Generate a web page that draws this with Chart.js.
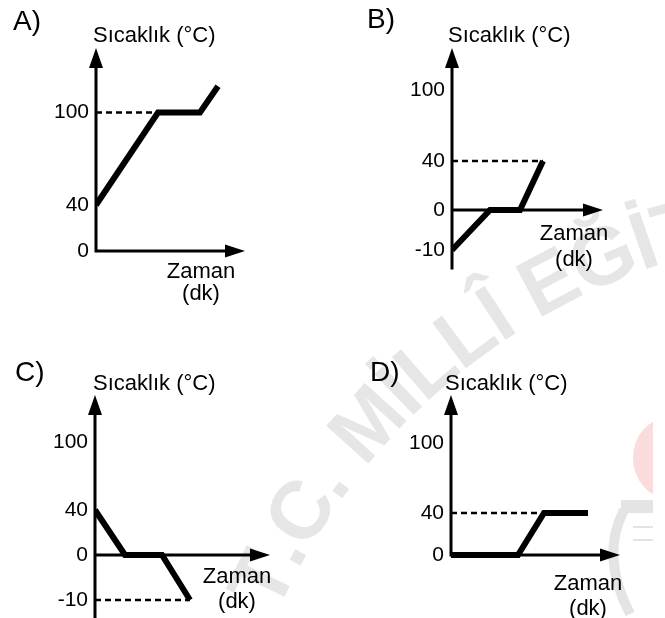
<!DOCTYPE html>
<html>
<head>
<meta charset="utf-8">
<script src="https://cdn.jsdelivr.net/npm/chart.js@4.4.0/dist/chart.umd.min.js"></script>
<style>
  html, body { margin: 0; padding: 0; background: #fff; }
  #wrap { position: relative; width: 665px; height: 618px; overflow: hidden; }
  #wrap canvas { position: absolute; left: 0; top: 0; }
</style>
</head>
<body>
<div id="wrap">
  <canvas id="chart-a" width="665" height="618"></canvas>
  <canvas id="chart-b" width="665" height="618"></canvas>
  <canvas id="chart-c" width="665" height="618"></canvas>
  <canvas id="chart-d" width="665" height="618"></canvas>
</div>
<script>
// ============ veriler ============
const Y_TITLE = 'Sıcaklık (°C)';
const X_TITLE = ['Zaman', '(dk)'];
const PANEL_LETTERS = ['A)', 'B)', 'C)', 'D)'];

// A) 40 -> 100 -> sabit -> yukarı
const TICKS_A = [0, 40, 100];
const TIME_A = [0, 6.2, 10.4, 12.2];
const TEMP_A = [40, 100, 100, 117];
const REF_TIME_A = [0, 6.2];
const REF_TEMP_A = [100, 100];

// B) -10 -> 0 -> sabit -> 40
const TICKS_B = [-10, 0, 40, 100];
const TIME_B = [0, 3.8, 6.8, 9.1];
const TEMP_B = [-10, 0, 0, 40];
const REF_TIME_B = [0, 9.1];
const REF_TEMP_B = [40, 40];

// C) 40 -> 0 -> sabit -> -10
const TICKS_C = [-10, 0, 40, 100];
const TIME_C = [0, 3.0, 6.7, 9.5];
const TEMP_C = [40, 0, 0, -10];
const REF_TIME_C = [0, 9.5];
const REF_TEMP_C = [-10, -10];

// D) 0 sabit -> 40 -> sabit
const TICKS_D = [0, 40, 100];
const TIME_D = [0, 6.7, 9.3, 13.7];
const TEMP_D = [0, 0, 40, 40];
const REF_TIME_D = [0, 9.3];
const REF_TEMP_D = [40, 40];

// ============ yerleşim (piksel) ============
// tickPos: tick değerlerinin eksen boyundaki yeri (0 = alt, 1 = ok ucu)
const LAYOUT = {
  A: { axisX: 96,  tipX: 245, topY: 48,  bottomY: 251, xMax: 14.9, tickPos: [0, 0.2266, 0.6823],
       letter: [13, 30],   title: [93, 42],   zaman: [201, 278], dk: 300 },
  B: { axisX: 452, tipX: 603, topY: 48,  bottomY: 268, xMax: 15.1, tickPos: [0.0818, 0.2636, 0.4864, 0.8091],
       letter: [367, 28],  title: [448, 42],  zaman: [574, 240], dk: 266 },
  C: { axisX: 95,  tipX: 270, topY: 395, bottomY: 618, xMax: 17.5, tickPos: [0.0807, 0.2825, 0.4843, 0.7892],
       letter: [15, 381],  title: [93, 390],  zaman: [237, 583], dk: 608 },
  D: { axisX: 451, tipX: 620, topY: 395, bottomY: 555, xMax: 16.9, tickPos: [0, 0.2625, 0.7],
       letter: [370, 381], title: [445, 390], zaman: [588, 590], dk: 615 }
};

const STOPS = {
  A: { values: TICKS_A, pos: LAYOUT.A.tickPos },
  B: { values: TICKS_B, pos: LAYOUT.B.tickPos },
  C: { values: TICKS_C, pos: LAYOUT.C.tickPos },
  D: { values: TICKS_D, pos: LAYOUT.D.tickPos }
};

Chart.defaults.font.family = '"Liberation Sans", Arial, sans-serif';
Chart.defaults.color = '#000';

// Şematik (parçalı doğrusal) sıcaklık ekseni
class PiecewiseScale extends Chart.LinearScale {
  buildTicks() {
    return STOPS[this.options.panel].values.map(v => ({ value: v }));
  }
  toDec(v) {
    const { values: vs, pos: ps } = STOPS[this.options.panel];
    let i = 0;
    while (i < vs.length - 2 && v > vs[i + 1]) i++;
    return ps[i] + (v - vs[i]) * (ps[i + 1] - ps[i]) / (vs[i + 1] - vs[i]);
  }
  fromDec(d) {
    const { values: vs, pos: ps } = STOPS[this.options.panel];
    let i = 0;
    while (i < ps.length - 2 && d > ps[i + 1]) i++;
    return vs[i] + (d - ps[i]) * (vs[i + 1] - vs[i]) / (ps[i + 1] - ps[i]);
  }
  getPixelForValue(v) {
    if (v === null || v === undefined || isNaN(v)) return NaN;
    return this.getPixelForDecimal(this.toDec(v));
  }
  getValueForPixel(p) {
    return this.fromDec(this.getDecimalForPixel(p));
  }
}
PiecewiseScale.id = 'piecewise';
Chart.register(PiecewiseScale);

// eksen çizgileri ve oklar
const axisArrows = {
  id: 'axisArrows',
  beforeDatasetsDraw(chart) {
    const { ctx, chartArea: a, scales: { y } } = chart;
    const y0 = y.getPixelForValue(0);
    ctx.save();
    ctx.strokeStyle = '#000';
    ctx.fillStyle = '#000';
    ctx.lineWidth = 3;
    ctx.beginPath();
    ctx.moveTo(a.left, a.bottom + 1.5);
    ctx.lineTo(a.left, a.top + 12);
    ctx.moveTo(a.left - 1.5, y0);
    ctx.lineTo(a.right - 12, y0);
    ctx.stroke();
    ctx.beginPath();
    ctx.moveTo(a.left, a.top);
    ctx.lineTo(a.left - 7, a.top + 20);
    ctx.lineTo(a.left + 7, a.top + 20);
    ctx.closePath();
    ctx.fill();
    ctx.beginPath();
    ctx.moveTo(a.right, y0);
    ctx.lineTo(a.right - 20, y0 - 6.5);
    ctx.lineTo(a.right - 20, y0 + 6.5);
    ctx.closePath();
    ctx.fill();
    ctx.restore();
  }
};

// şık harfi, eksen adları
const panelText = {
  id: 'panelText',
  afterDraw(chart, args, o) {
    const ctx = chart.ctx;
    ctx.save();
    ctx.fillStyle = '#000';
    ctx.textBaseline = 'alphabetic';
    ctx.textAlign = 'left';
    ctx.font = '28px "Liberation Sans", Arial, sans-serif';
    ctx.fillText(o.letter, o.letterX, o.letterY);
    ctx.font = '22px "Liberation Sans", Arial, sans-serif';
    ctx.fillText(Y_TITLE, o.titleX, o.titleY);
    ctx.textAlign = 'center';
    ctx.fillText(X_TITLE[0], o.zamanX, o.zamanY);
    ctx.fillText(X_TITLE[1], o.zamanX, o.dkY);
    ctx.restore();
  }
};

// arka plandaki soluk filigran
const watermark = {
  id: 'watermark',
  beforeDraw(chart) {
    const ctx = chart.ctx;
    ctx.save();
    // logo parçası (sağ kenar)
    ctx.beginPath();
    ctx.rect(0, 0, 653, 618);
    ctx.clip();
    ctx.fillStyle = '#fadcdc';
    ctx.beginPath();
    ctx.ellipse(668, 458, 35, 40, 0, 0, Math.PI * 2);
    ctx.fill();
    ctx.fillStyle = '#e4e4e4';
    ctx.fillRect(621, 500, 32, 13);
    ctx.strokeStyle = '#e4e4e4';
    ctx.lineWidth = 2;
    ctx.beginPath();
    ctx.moveTo(633, 527); ctx.lineTo(653, 527);
    ctx.moveTo(633, 540); ctx.lineTo(653, 540);
    ctx.stroke();
    ctx.lineWidth = 10;
    ctx.beginPath();
    ctx.moveTo(624, 510);
    ctx.quadraticCurveTo(600, 556, 630, 614);
    ctx.stroke();
    ctx.restore();

    // yay üzerinde yazı
    ctx.save();
    ctx.fillStyle = '#e6e6e6';
    ctx.font = 'bold 82px "Liberation Sans", Arial, sans-serif';
    ctx.textAlign = 'center';
    ctx.textBaseline = 'middle';
    const cx = 858, cy = 866, r = 656;
    let ang = 203.5 * Math.PI / 180;
    for (const ch of 'T.C. MİLLÎ EĞİTİM BAKANLIĞI') {
      const w = ctx.measureText(ch).width;
      const mid = ang + w / 2 / r;
      ctx.save();
      ctx.translate(cx + r * Math.cos(mid), cy + r * Math.sin(mid));
      ctx.rotate(mid + Math.PI / 2);
      ctx.fillText(ch, 0, 0);
      ctx.restore();
      ang += w / r;
    }
    ctx.restore();
  }
};

function makePanel(canvasId, key, letter, time, temp, refTime, refTemp, withWatermark) {
  const L = LAYOUT[key];
  const plugins = [axisArrows, panelText];
  if (withWatermark) plugins.unshift(watermark);
  return new Chart(document.getElementById(canvasId), {
    type: 'line',
    data: {
      datasets: [
        {
          data: time.map((t, i) => ({ x: t, y: temp[i] })),
          borderColor: '#000', borderWidth: 6, pointRadius: 0, tension: 0,
          borderJoinStyle: 'miter', borderCapStyle: 'butt', fill: false
        },
        {
          data: refTime.map((t, i) => ({ x: t, y: refTemp[i] })),
          borderColor: '#000', borderWidth: 2.5, borderDash: [6, 4], pointRadius: 0, tension: 0,
          borderCapStyle: 'butt', fill: false
        }
      ]
    },
    options: {
      responsive: false,
      animation: false,
      devicePixelRatio: 1,
      layout: { padding: { left: L.axisX - 60, top: L.topY, right: 665 - L.tipX, bottom: 618 - L.bottomY } },
      scales: {
        x: { type: 'linear', min: 0, max: L.xMax, display: false },
        y: {
          type: 'piecewise',
          panel: key,
          grid: { display: false, drawTicks: false },
          border: { display: false },
          ticks: { font: { size: 21 }, color: '#000', padding: 7 },
          afterFit: s => { s.width = 60; s.paddingTop = 0; s.paddingBottom = 0; }
        }
      },
      plugins: {
        legend: { display: false },
        tooltip: { enabled: false },
        panelText: {
          letter: letter, letterX: L.letter[0], letterY: L.letter[1],
          titleX: L.title[0], titleY: L.title[1],
          zamanX: L.zaman[0], zamanY: L.zaman[1], dkY: L.dk
        }
      }
    },
    plugins: plugins
  });
}

makePanel('chart-a', 'A', PANEL_LETTERS[0], TIME_A, TEMP_A, REF_TIME_A, REF_TEMP_A, true);
makePanel('chart-b', 'B', PANEL_LETTERS[1], TIME_B, TEMP_B, REF_TIME_B, REF_TEMP_B, false);
makePanel('chart-c', 'C', PANEL_LETTERS[2], TIME_C, TEMP_C, REF_TIME_C, REF_TEMP_C, false);
makePanel('chart-d', 'D', PANEL_LETTERS[3], TIME_D, TEMP_D, REF_TIME_D, REF_TEMP_D, false);
</script>
</body>
</html>
